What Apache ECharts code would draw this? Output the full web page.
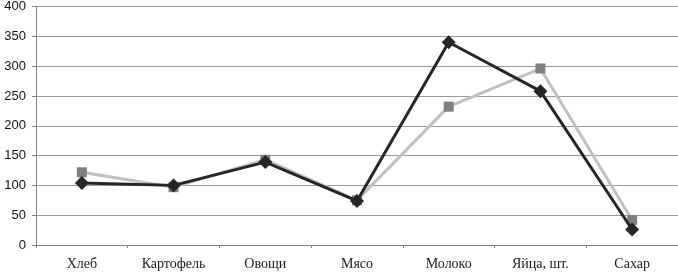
<!DOCTYPE html>
<html>
<head>
<meta charset="utf-8">
<script src="https://cdn.jsdelivr.net/npm/echarts@6/dist/echarts.min.js"></script>
<style>
html, body { margin: 0; padding: 0; background: #fff; }
#chart { width: 678px; height: 272px; }
</style>
</head>
<body>
<div id="chart"></div>
<script>
var categories = ['Хлеб', 'Картофель', 'Овощи', 'Мясо', 'Молоко', 'Яйца, шт.', 'Сахар'];
var darkValues = [104, 100, 139, 74, 340, 258, 26];
var lightValues = [122, 97, 143, 75, 232, 296, 42];

var dom = document.getElementById('chart');
var myChart = echarts.init(dom);
var option = {
    animation: false,
    backgroundColor: '#fff',
    grid: { left: 36, right: 0, top: 5, bottom: 27 },
    xAxis: {
        type: 'category',
        data: categories,
        boundaryGap: true,
        axisLine: { lineStyle: { color: '#808080', width: 1 } },
        axisTick: { show: true, alignWithLabel: false, length: 3, lineStyle: { color: '#808080' } },
        axisLabel: {
            color: '#1a1a1a',
            fontFamily: 'Liberation Serif',
            fontSize: 14,
            margin: 12
        }
    },
    yAxis: {
        type: 'value',
        min: 0,
        max: 400,
        interval: 50,
        axisLine: { show: true, lineStyle: { color: '#808080' } },
        axisTick: { show: true, length: 4, lineStyle: { color: '#808080' } },
        axisLabel: {
            color: '#111',
            fontFamily: 'Liberation Sans',
            fontSize: 13,
            margin: 10
        },
        splitLine: { lineStyle: { color: '#9a9a9a', width: 1 } }
    },
    series: [
        {
            name: 'light',
            type: 'line',
            data: lightValues,
            symbol: 'rect',
            symbolSize: 10,
            lineStyle: { color: '#c0c0c0', width: 3 },
            itemStyle: { color: '#808080' },
            z: 2
        },
        {
            name: 'dark',
            type: 'line',
            data: darkValues,
            symbol: 'diamond',
            symbolSize: [14, 14],
            lineStyle: { color: '#262626', width: 3 },
            itemStyle: { color: '#262626' },
            z: 3
        }
    ]
};
myChart.setOption(option, true);
</script>
</body>
</html>
